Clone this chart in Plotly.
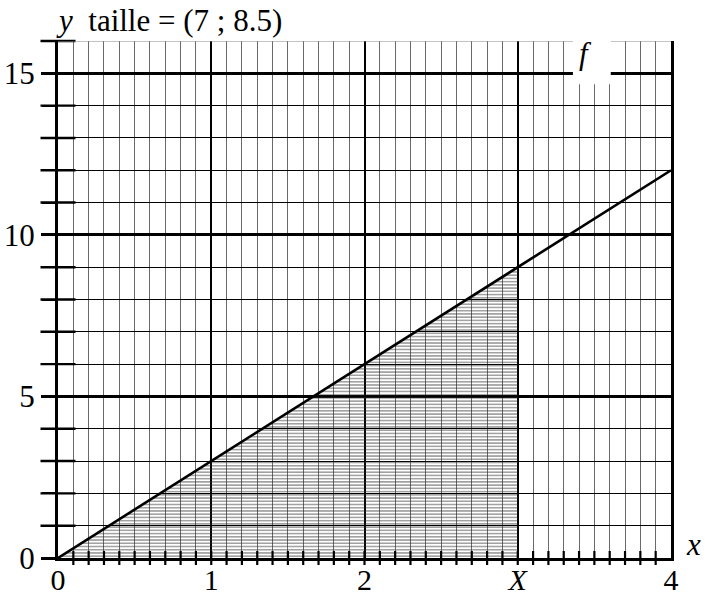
import numpy as np
import plotly.graph_objects as go

# Function f(x) = 3x drawn over [0, 4]
f_x = [0, 4]
f_y = [0, 12]

# Integration area under f from 0 to X
X = 3
area_x = [0, X]
area_y = [0, 9]

# Axis tick labels
x_tickvals = [0, 1, 2, 3, 4]
x_ticktext = ["0", "1", "2", "<i>X</i>", "4"]
y_tickvals = [0, 5, 10, 15]
y_ticktext = ["0", "5", "10", "15"]

# Crossing tick marks on both axes
x_minor_ticks = [round(0.1 * k, 1) for k in range(1, 40)]
y_minor_ticks = [k for k in range(1, 17) if k % 5 != 0]

title_text = "<i>y</i>&nbsp;&nbsp;taille = (7 ; 8.5)"

FONT = "Liberation Serif, Times New Roman, serif"
FS = 31

fig = go.Figure()

# hatched area
fig.add_trace(go.Scatter(
    x=area_x, y=area_y, mode="lines", fill="tozeroy",
    line=dict(width=0, color="rgba(0,0,0,0)"),
    fillcolor="rgba(0,0,0,0)",
    fillpattern=dict(shape="-", size=3.23, solidity=0.45,
                     fgcolor="#303030", bgcolor="rgba(0,0,0,0)"),
    hoverinfo="skip", showlegend=False,
))

# the function
fig.add_trace(go.Scatter(
    x=f_x, y=f_y, mode="lines",
    line=dict(color="black", width=2.6),
    showlegend=False, cliponaxis=False,
))

# tick marks crossing the x axis
fig.add_trace(go.Scatter(
    x=x_minor_ticks, y=[0] * len(x_minor_ticks), mode="markers",
    marker=dict(symbol="line-ns", size=10, line=dict(color="black", width=2.2)),
    showlegend=False, cliponaxis=False, hoverinfo="skip",
))

# tick marks crossing the y axis
fig.add_trace(go.Scatter(
    x=[0] * len(y_minor_ticks), y=y_minor_ticks, mode="markers",
    marker=dict(symbol="line-ew", size=25, line=dict(color="black", width=2.4)),
    showlegend=False, cliponaxis=False, hoverinfo="skip",
))

fig.update_layout(
    width=707, height=595,
    margin=dict(l=58, r=36, t=41, b=37, autoexpand=False),
    paper_bgcolor="white", plot_bgcolor="white",
    font=dict(family=FONT, size=FS, color="black"),
    showlegend=False,
)

fig.update_xaxes(
    range=[0, 4], tickvals=x_tickvals, ticktext=x_ticktext,
    automargin=False,
    showgrid=True, gridcolor="black", gridwidth=2,
    ticks="", ticklabelstandoff=-7,
    showline=True, linecolor="black", linewidth=3,
    zeroline=False,
    minor=dict(dtick=0.1, showgrid=True, gridcolor="#6a6a6a", gridwidth=1.2,
               ticks=""),
    tickfont=dict(family=FONT, size=30),
)

fig.update_yaxes(
    range=[0, 16], tickvals=y_tickvals, ticktext=y_ticktext,
    automargin=False,
    showgrid=True, gridcolor="black", gridwidth=2.5,
    ticks="outside", ticklen=14, tickwidth=2.5, tickcolor="black",
    showline=True, linecolor="black", linewidth=3, mirror=True,
    zeroline=False,
    minor=dict(dtick=1, showgrid=True, gridcolor="black", gridwidth=1,
               ticks="outside", ticklen=13, tickwidth=2.4, tickcolor="black"),
    tickfont=dict(family=FONT, size=FS),
)

# gray top edge
fig.add_shape(type="line", xref="x", yref="y", x0=0, x1=4, y0=16, y1=16,
              line=dict(color="#8a8a8a", width=1))

# white box behind the function label
fig.add_shape(type="rect", xref="x", yref="paper", x0=3.36, x1=3.607,
              y0=0.9165, y1=1.003, fillcolor="white", line=dict(width=0),
              layer="above")

# title
fig.add_annotation(
    xref="paper", yref="paper", x=0, y=1, xanchor="left", yanchor="bottom",
    text=title_text, showarrow=False, xshift=-4, yshift=1,
    font=dict(family=FONT, size=FS, color="black"),
)

# x axis name
fig.add_annotation(
    xref="paper", yref="y", x=1, y=0, xanchor="left", yanchor="bottom",
    text="<i>x</i>", showarrow=False, xshift=13, yshift=-6,
    font=dict(family=FONT, size=FS, color="black"),
)

# function label
fig.add_annotation(
    xref="x", yref="paper", x=3.44, y=1.0, xanchor="center", yanchor="top",
    text="<i>f</i>", showarrow=False, yshift=7,
    font=dict(family=FONT, size=FS, color="black"),
)

fig.write_html("out.html")
